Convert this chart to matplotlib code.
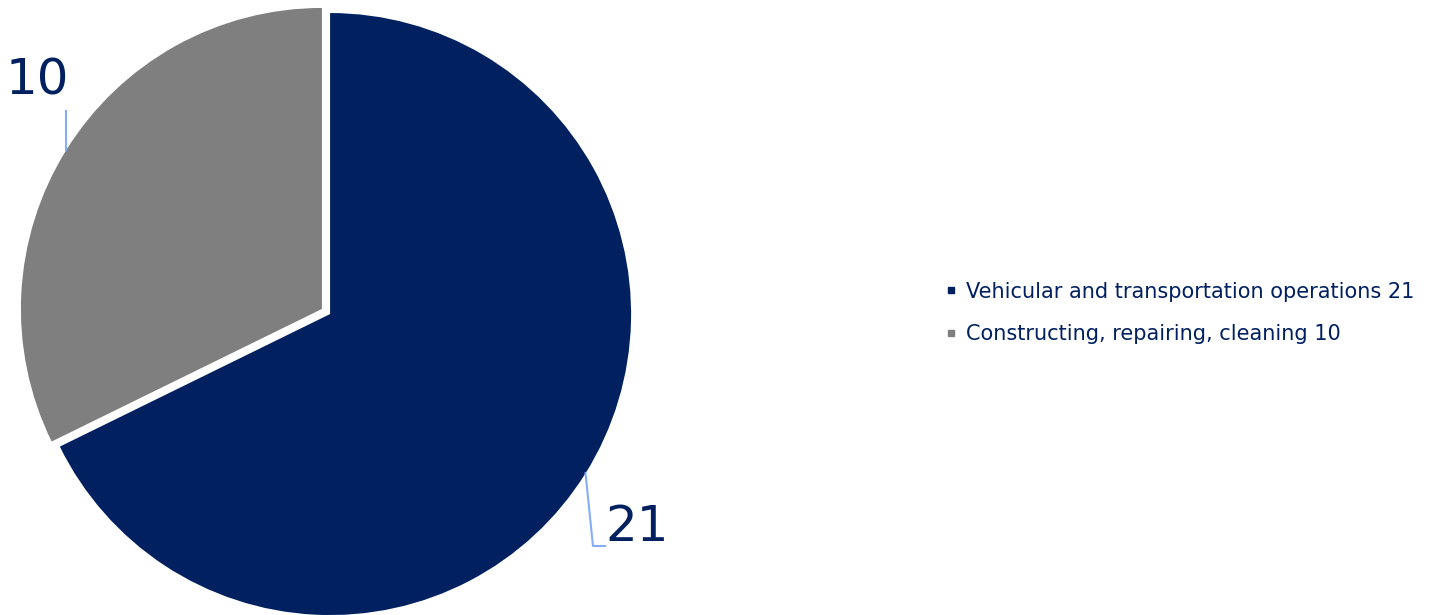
import numpy as np
import matplotlib
matplotlib.use("Agg")
from matplotlib import pyplot as plt
from matplotlib.lines import Line2D

categories = ["Vehicular and transportation operations", "Constructing, repairing, cleaning"]
values = [21, 10]
colours = ["#002060", "#7F7F7F"]

TEXT_COLOUR = "#002060"
LEADER_COLOUR = "#86AEF8"
W, H = 1433, 615

fig = plt.figure(figsize=(W / 100, H / 100), dpi=100)
# pie centre at (326, 311.5) px, radius 301 px
cx, cy, r = 326, 311.5, 301
ax = fig.add_axes([(cx - r) / W, (H - cy - r) / H, 2 * r / W, 2 * r / H])

explode = [0.016, 0.016]
wedges, _ = ax.pie(values, colors=colours, startangle=90, counterclock=False,
                   explode=explode, radius=1)
for w in wedges:
    w.set_clip_on(False)
# pie() sets its own limits, so reset them afterwards
ax.set_xlim(-1, 1)
ax.set_ylim(-1, 1)
ax.axis("off")


def edge_point(w, ex):
    mid = np.deg2rad((w.theta1 + w.theta2) / 2)
    return (1 + ex) * np.cos(mid), (1 + ex) * np.sin(mid)


# label 10 (grey slice): short vertical leader, number above
x0, y0 = edge_point(wedges[1], explode[1])
ax.plot([x0, x0], [y0, y0 + 0.13], color=LEADER_COLOUR, lw=1.5, clip_on=False)
ax.text(-0.958, 0.766, str(values[1]), color=TEXT_COLOUR, fontsize=36,
        ha="center", va="center")

# label 21 (dark slice): bent leader, number to the right
x1, y1 = edge_point(wedges[0], explode[0])
ax.plot([x1, 0.887, 0.927], [y1, -0.779, -0.779], color=LEADER_COLOUR, lw=1.5,
        clip_on=False)
ax.text(1.035, -0.716, str(values[0]), color=TEXT_COLOUR, fontsize=36,
        ha="center", va="center")

handles = [Line2D([], [], ls="none", marker="s", markersize=5, color=c) for c in colours]
labels = [f"{n} {v}" for n, v in zip(categories, values)]
fig.legend(handles, labels, loc="center left", bbox_to_anchor=(946 / W, 1 - 313 / H),
           frameon=False, fontsize=15, labelcolor=TEXT_COLOUR, handlelength=0.5,
           handletextpad=0.45, labelspacing=1.1, borderpad=0, borderaxespad=0)

fig.savefig("out.png", dpi=100)
